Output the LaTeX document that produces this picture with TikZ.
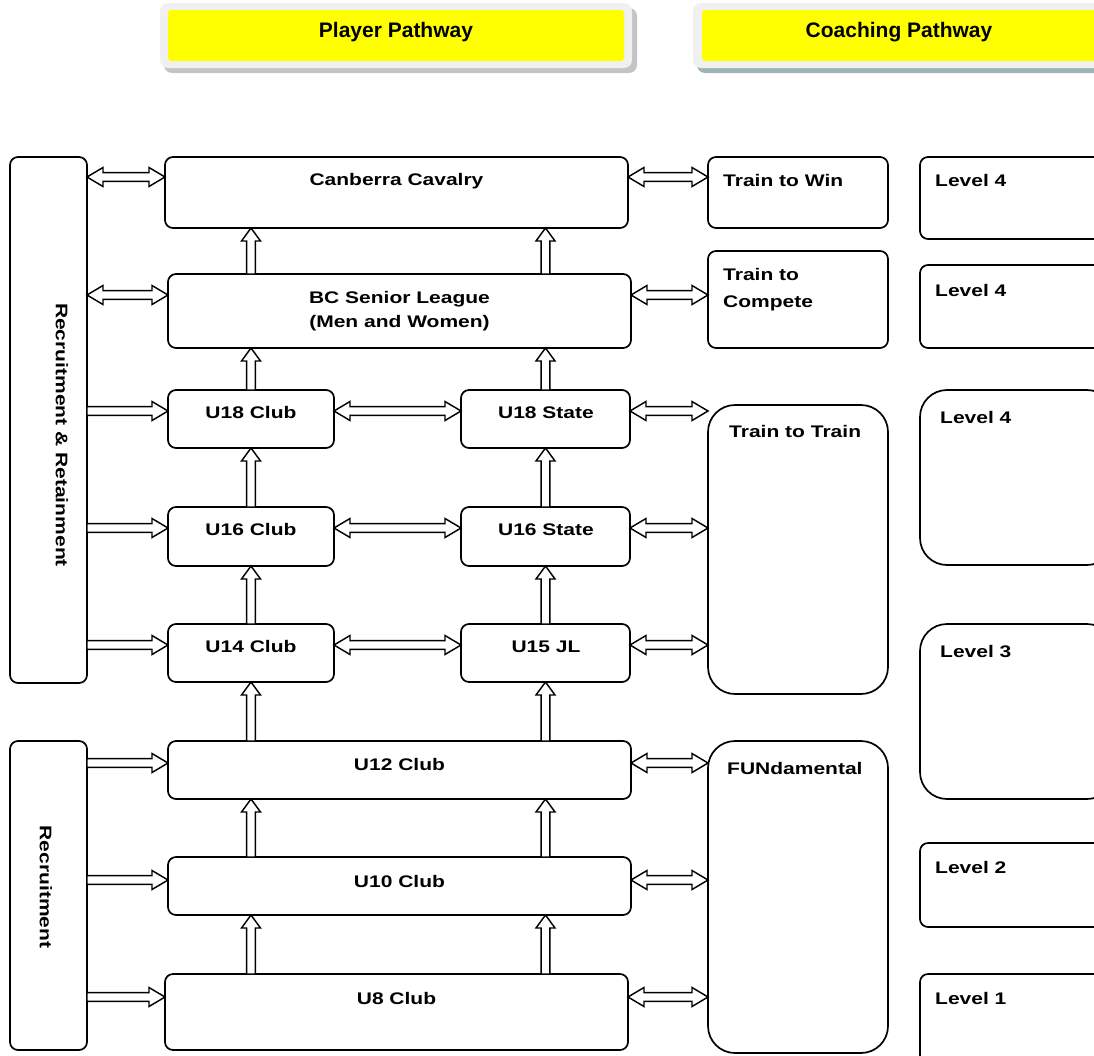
\documentclass[tikz,border=0pt]{standalone}
\usepackage{fontspec}
\newfontfamily\stretchfont[FakeStretch=1.25]{Liberation Sans}
\newfontfamily\headfont{Liberation Sans}
\usetikzlibrary{calc}
\definecolor{hdrframe}{HTML}{F0F0F0}
\definecolor{hdrshadeA}{HTML}{C4C4C4}
\definecolor{hdrshadeB}{HTML}{9FB3BB}
\definecolor{hdryellow}{HTML}{FFFF00}
\newcommand\shaftw{4.3pt}
\newcommand\headw{9.5pt}
% single-headed hollow arrow: #1 start, #2 end (tip), #3 head length
\newcommand\onearrow[3]{%
  \path #1 coordinate (a-s) #2 coordinate (a-t);
  \path ($(a-t)!#3!(a-s)$) coordinate (a-c);
  \draw[arr] ($(a-s)!\shaftw!90:(a-t)$) -- ($(a-c)!\shaftw!90:(a-t)$) -- ($(a-c)!\headw!90:(a-t)$) -- (a-t)
    -- ($(a-c)!\headw!-90:(a-t)$) -- ($(a-c)!\shaftw!-90:(a-t)$) -- ($(a-s)!\shaftw!-90:(a-t)$) -- cycle;}
% double-headed hollow arrow
\newcommand\twoarrow[3]{%
  \path #1 coordinate (a-s) #2 coordinate (a-t);
  \path ($(a-t)!#3!(a-s)$) coordinate (a-c) ($(a-s)!#3!(a-t)$) coordinate (a-d);
  \draw[arr] (a-s) -- ($(a-d)!\headw!90:(a-t)$) -- ($(a-d)!\shaftw!90:(a-t)$) -- ($(a-c)!\shaftw!90:(a-t)$)
    -- ($(a-c)!\headw!90:(a-t)$) -- (a-t) -- ($(a-c)!\headw!-90:(a-t)$) -- ($(a-c)!\shaftw!-90:(a-t)$)
    -- ($(a-d)!\shaftw!-90:(a-t)$) -- ($(a-d)!\headw!-90:(a-t)$) -- cycle;}
% box by corners: [style] name x1 y1 x2 y2
\newcommand\mkbox[6][]{%
  \node[box,#1,minimum width={(#5-#3)*1pt},minimum height={(#6-#4)*1pt}] (#2) at ({(#3+#5)/2},{(#4+#6)/2}) {};}
\begin{document}
\begin{tikzpicture}[x=1pt,y=-1pt,
  box/.style={draw, line width=1.7pt, rounded corners=8pt, inner sep=0pt, outer sep=0pt},
  bigbox/.style={rounded corners=27pt},
  lbl/.style={font=\stretchfont\bfseries\fontsize{16.8}{24}\selectfont, inner sep=0pt, anchor=base},
  lblw/.style={lbl, anchor=base west},
  hdr/.style={font=\headfont\bfseries\fontsize{21}{24}\selectfont, inner sep=0pt, anchor=base},
  arr/.style={draw, line width=1.45pt, fill=white, line join=miter}]

\useasboundingbox (0,0) rectangle (1094,1055);

% headers
\fill[hdrshadeA, rounded corners=8pt] (164,8) rectangle (637,73);
\fill[hdrframe, rounded corners=8pt] (160,3) rectangle (632,68);
\fill[hdryellow, rounded corners=3pt] (168,10) rectangle (624,61);
\node[hdr] (pp-t) at (396,37) {Player Pathway};
\fill[hdrshadeB, rounded corners=8pt] (697,8) rectangle (1120,73);
\fill[hdrframe, rounded corners=8pt] (693,3) rectangle (1116,68);
\fill[hdryellow, rounded corners=3pt] (702,10) rectangle (1110,61);
\node[hdr] (cp-t) at (899,37) {Coaching Pathway};

% rows for horizontal connectors
\coordinate (row1) at (0,177);
\coordinate (row2) at (0,295);
\coordinate (row3) at (0,411);
\coordinate (row4) at (0,528);
\coordinate (row5) at (0,645);
\coordinate (row6) at (0,763);
\coordinate (row7) at (0,880);
\coordinate (row8) at (0,997);

% left boxes
\mkbox{rr}{10}{157}{87}{683}
\mkbox{rec}{10}{741}{87}{1050}
\node[lbl, anchor=center, rotate=-90] (rr-t) at (62,435) {Recruitment \& Retainment};
\node[lbl, anchor=center, rotate=-90] (rec-t) at (46,887) {Recruitment};

% player pathway boxes
\mkbox{cav}{165}{157}{628}{228}
\mkbox{bc}{168}{274}{631}{348}
\mkbox{u18c}{168}{390}{334}{448}
\mkbox{u18s}{461}{390}{630}{448}
\mkbox{u16c}{168}{507}{334}{566}
\mkbox{u16s}{461}{507}{630}{566}
\mkbox{u14c}{168}{624}{334}{682}
\mkbox{u15}{461}{624}{630}{682}
\mkbox{u12}{168}{741}{631}{799}
\mkbox{u10}{168}{857}{631}{915}
\mkbox{u8}{165}{974}{628}{1050}

\node[lbl] (cav-t) at (396.5,185) {Canberra Cavalry};
\node[lbl] (bc-t1) at (399.5,303) {BC Senior League};
\node[lbl] (bc-t2) at (399.5,327) {(Men and Women)};
\node[lbl] (u18c-t) at (251,418) {U18 Club};
\node[lbl] (u18s-t) at (546,418) {U18 State};
\node[lbl] (u16c-t) at (251,535) {U16 Club};
\node[lbl] (u16s-t) at (546,535) {U16 State};
\node[lbl] (u14c-t) at (251,652) {U14 Club};
\node[lbl] (u15-t) at (546,652) {U15 JL};
\node[lbl] (u12-t) at (399.5,770) {U12 Club};
\node[lbl] (u10-t) at (399.5,887) {U10 Club};
\node[lbl] (u8-t) at (396.5,1004) {U8 Club};

% coaching stages
\mkbox{ttw}{708}{157}{888}{228}
\mkbox{ttc}{708}{251}{888}{348}
\mkbox[bigbox]{ttt}{708}{405}{888}{694}
\mkbox[bigbox]{fun}{708}{741}{888}{1053}
\node[lblw] (ttw-t) at (723,186) {Train to Win};
\node[lblw] (ttc-t1) at (723,280) {Train to};
\node[lblw] (ttc-t2) at (723,307) {Compete};
\node[lblw] (ttt-t) at (729,437) {Train to Train};
\node[lblw] (fun-t) at (727,774) {FUNdamental};

% coaching levels
\mkbox{l4a}{920}{157}{1114}{239}
\mkbox{l4b}{920}{265}{1114}{348}
\mkbox[bigbox]{l4c}{920}{390}{1114}{565}
\mkbox[bigbox]{l3}{920}{624}{1114}{799}
\mkbox{l2}{920}{843}{1114}{927}
\mkbox{l1}{920}{974}{1114}{1068}
\node[lblw] (l4a-t) at (935,186) {Level 4};
\node[lblw] (l4b-t) at (935,296) {Level 4};
\node[lblw] (l4c-t) at (940,423) {Level 4};
\node[lblw] (l3-t) at (940,657) {Level 3};
\node[lblw] (l2-t) at (935,873) {Level 2};
\node[lblw] (l1-t) at (935,1004) {Level 1};

% left connectors
\twoarrow{(rr.east |- row1)}{(cav.west |- row1)}{16pt}
\twoarrow{(rr.east |- row2)}{(bc.west |- row2)}{16pt}
\onearrow{(rr.east |- row3)}{(u18c.west |- row3)}{16pt}
\onearrow{(rr.east |- row4)}{(u16c.west |- row4)}{16pt}
\onearrow{(rr.east |- row5)}{(u14c.west |- row5)}{16pt}
\onearrow{(rec.east |- row6)}{(u12.west |- row6)}{16pt}
\onearrow{(rec.east |- row7)}{(u10.west |- row7)}{16pt}
\onearrow{(rec.east |- row8)}{(u8.west |- row8)}{16pt}

% club <-> state
\twoarrow{(u18c.east |- row3)}{(u18s.west |- row3)}{16pt}
\twoarrow{(u16c.east |- row4)}{(u16s.west |- row4)}{16pt}
\twoarrow{(u14c.east |- row5)}{(u15.west |- row5)}{16pt}

% player <-> coaching
\twoarrow{(cav.east |- row1)}{(ttw.west |- row1)}{16pt}
\twoarrow{(bc.east |- row2)}{(ttc.west |- row2)}{16pt}
\twoarrow{(u18s.east |- row3)}{(ttt.west |- row3)}{16pt}
\twoarrow{(u16s.east |- row4)}{(ttt.west |- row4)}{16pt}
\twoarrow{(u15.east |- row5)}{(ttt.west |- row5)}{16pt}
\twoarrow{(u12.east |- row6)}{(fun.west |- row6)}{16pt}
\twoarrow{(u10.east |- row7)}{(fun.west |- row7)}{16pt}
\twoarrow{(u8.east |- row8)}{(fun.west |- row8)}{16pt}

% upward progression
\onearrow{(bc.north -| u18c)}{(cav.south -| u18c)}{13pt}
\onearrow{(bc.north -| u18s)}{(cav.south -| u18s)}{13pt}
\onearrow{(u18c.north)}{(bc.south -| u18c)}{13pt}
\onearrow{(u18s.north)}{(bc.south -| u18s)}{13pt}
\onearrow{(u16c.north)}{(u18c.south)}{13pt}
\onearrow{(u16s.north)}{(u18s.south)}{13pt}
\onearrow{(u14c.north)}{(u16c.south)}{13pt}
\onearrow{(u15.north)}{(u16s.south)}{13pt}
\onearrow{(u12.north -| u14c)}{(u14c.south)}{13pt}
\onearrow{(u12.north -| u15)}{(u15.south)}{13pt}
\onearrow{(u10.north -| u14c)}{(u12.south -| u14c)}{13pt}
\onearrow{(u10.north -| u15)}{(u12.south -| u15)}{13pt}
\onearrow{(u8.north -| u14c)}{(u10.south -| u14c)}{13pt}
\onearrow{(u8.north -| u15)}{(u10.south -| u15)}{13pt}
\end{tikzpicture}
\end{document}
